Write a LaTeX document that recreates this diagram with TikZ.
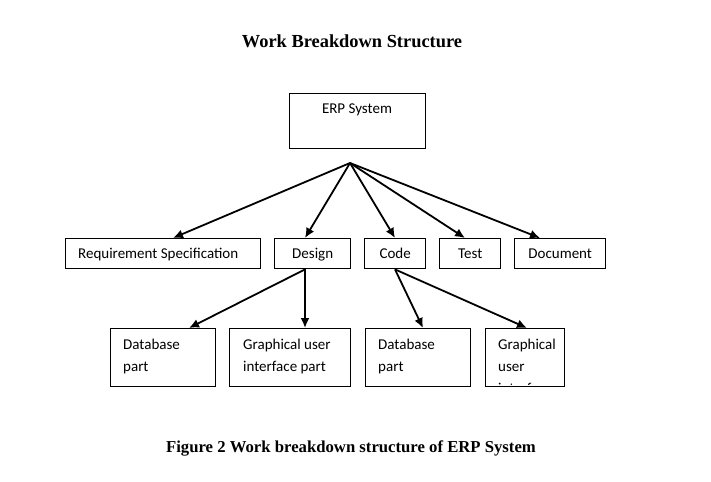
\documentclass[tikz,border=0pt]{standalone}
\usepackage{fontspec}
\setmainfont{Liberation Serif}
\newfontfamily\boxfont{Carlito}
\usetikzlibrary{arrows.meta,calc}
\begin{document}
\begin{tikzpicture}[x=1bp,y=-1bp,
  box/.style={draw, line width=1.4bp, inner sep=0pt, anchor=north west},
  conn/.style={line width=1.8bp, -{Latex[length=10bp,width=9bp]}},
  lbl/.style={font=\boxfont\fontsize{15bp}{22bp}\selectfont, inner sep=0pt},
  ttl/.style={font=\bfseries\fontsize{18.4bp}{22bp}\selectfont, inner sep=0pt, anchor=base}
]
\useasboundingbox (0,0) rectangle (711,482);

\node[ttl] (title) at (352,48) {Work Breakdown Structure};
\node[ttl, font=\bfseries\fontsize{16.7bp}{20bp}\selectfont] (caption) at (351,452) {Figure 2 Work breakdown structure of ERP System};

% level 1
\node[box, minimum width=136bp, minimum height=55bp] (erp) at (289,93) {};
\node[lbl, anchor=base] (erpt) at (357,114) {ERP System};
\coordinate (o1) at (350,163);

% level 2
\node[box, minimum width=195bp, minimum height=30bp] (req) at (65,238) {};
\node[box, minimum width=76bp, minimum height=30bp] (des) at (274,238) {};
\node[box, minimum width=61bp, minimum height=30bp] (code) at (364,238) {};
\node[box, minimum width=61bp, minimum height=30bp] (test) at (439,238) {};
\node[box, minimum width=91bp, minimum height=30bp] (doc) at (514,238) {};
\node[lbl, anchor=base] (reqt) at ([xshift=-5bp]req.center |- 0,259) {Requirement Specification};
\node[lbl, anchor=base] (dest) at (des.center |- 0,259) {Design};
\node[lbl, anchor=base] (codet) at (code.center |- 0,259) {Code};
\node[lbl, anchor=base] (testt) at (test.center |- 0,259) {Test};
\node[lbl, anchor=base] (doct) at (doc.center |- 0,259) {Document};

\draw[conn] (o1) -- ($(req.north west)+(108,0)$);
\draw[conn] (o1) -- ($(des.north west)+(31,0)$);
\draw[conn] (o1) -- ($(code.north west)+(31,0)$);
\draw[conn] (o1) -- ($(test.north west)+(26,0)$);
\draw[conn] (o1) -- ($(doc.north west)+(26,0)$);

% level 3
\node[box, minimum width=105bp, minimum height=58bp] (db1) at (110,328) {};
\node[box, minimum width=121bp, minimum height=58bp] (gui1) at (229,328) {};
\node[box, minimum width=105bp, minimum height=58bp] (db2) at (365,328) {};
\node[box, minimum width=79bp, minimum height=58bp] (gui2) at (485,328) {};

\node[lbl, anchor=north west, align=left] (db1t) at (123,339) {Database\\part};
\node[lbl, anchor=north west, align=left] (gui1t) at (243,339) {Graphical user\\interface part};
\node[lbl, anchor=north west, align=left] (db2t) at (378,339) {Database\\part};
\begin{scope}
  \clip (486,329) rectangle (563,384);
  \node[lbl, anchor=north west, align=left] (gui2t) at (498,339) {Graphical\\user\\interface\\part};
\end{scope}

\coordinate (o2) at ($(des.south west)+(31,0)$);
\coordinate (o3) at ($(code.south west)+(31,0)$);
\draw[conn] (o2) -- ($(db1.north west)+(79,0)$);
\draw[conn] (o2) -- (o2 |- gui1.north);
\draw[conn] (o3) -- ($(db2.north west)+(58,0)$);
\draw[conn] (o3) -- ($(gui2.north west)+(42,0)$);
\end{tikzpicture}
\end{document}
